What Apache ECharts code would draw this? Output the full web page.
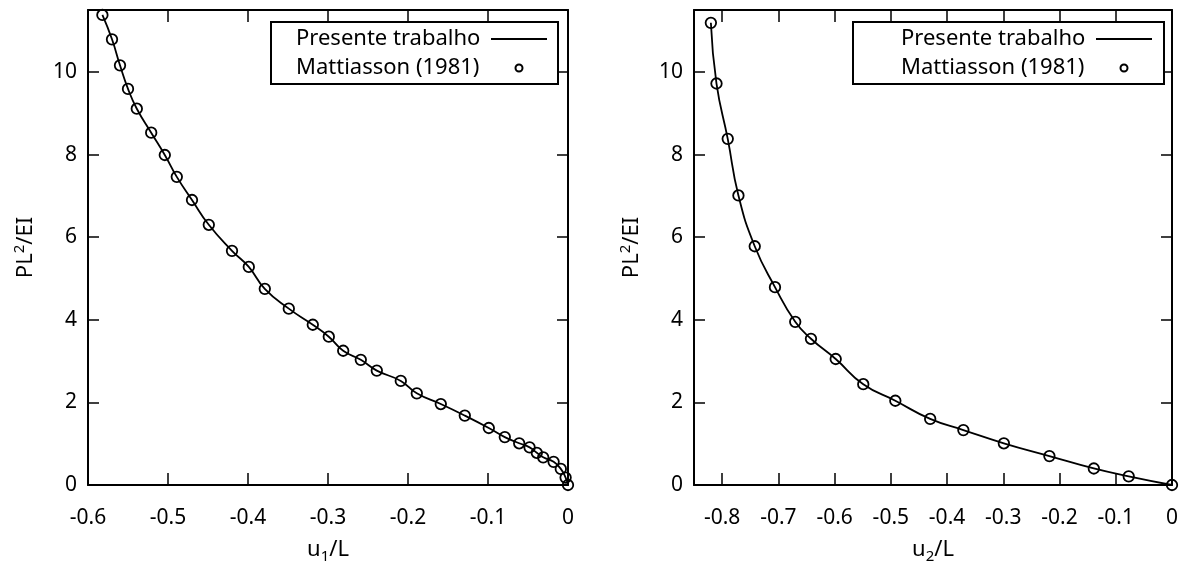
<!DOCTYPE html>
<html>
<head>
<meta charset="utf-8">
<script src="https://cdn.jsdelivr.net/npm/echarts@6/dist/echarts.min.js"></script>
<style>
  html, body { margin: 0; padding: 0; background: #fff; }
  #chart { width: 1188px; height: 578px; }
</style>
</head>
<body>
<div id="chart"></div>
<script>
// ---- data ----
const seriesNames = ['Presente trabalho', 'Mattiasson (1981)'];

// left panel: u1/L vs PL^2/EI
const u1 = [-0.582, -0.570, -0.560, -0.550, -0.539, -0.521, -0.504, -0.489, -0.470, -0.449,
            -0.420, -0.399, -0.379, -0.349, -0.319, -0.299, -0.281, -0.259, -0.239, -0.209,
            -0.189, -0.159, -0.129, -0.099, -0.079, -0.061, -0.048, -0.039, -0.031, -0.018,
            -0.009, -0.003, 0.0];
const load1 = [11.38, 10.79, 10.16, 9.59, 9.11, 8.53, 7.99, 7.46, 6.90, 6.30,
               5.67, 5.28, 4.75, 4.27, 3.88, 3.59, 3.25, 3.03, 2.77, 2.52,
               2.22, 1.96, 1.68, 1.38, 1.16, 1.01, 0.91, 0.78, 0.67, 0.56,
               0.39, 0.18, 0.0];

// right panel: u2/L vs PL^2/EI
const u2 = [-0.820, -0.810, -0.790, -0.771, -0.742, -0.706, -0.670, -0.642, -0.598, -0.549,
            -0.492, -0.430, -0.371, -0.299, -0.218, -0.139, -0.077, 0.0];
const load2 = [11.19, 9.72, 8.38, 7.01, 5.78, 4.79, 3.95, 3.54, 3.05, 2.44,
               2.04, 1.60, 1.33, 1.01, 0.70, 0.40, 0.21, 0.0];

// tick values
const xTicks1 = [-0.6, -0.5, -0.4, -0.3, -0.2, -0.1, 0];
const xTicks2 = [-0.8, -0.7, -0.6, -0.5, -0.4, -0.3, -0.2, -0.1, 0];
const yTicks = [0, 2, 4, 6, 8, 10];
const xRange1 = [-0.6, 0];
const xRange2 = [-0.85, 0];
const yRange = [0, 11.5];

// ---- chart ----
const FONT = '"Noto Sans", "Open Sans", sans-serif';
const BLACK = '#000';
const TICK_FS = 21;
const TITLE_FS = 22;
const pairs = (xs, ys) => xs.map((x, i) => [x, ys[i]]);

function xAxes(grid, range, ticks, name) {
  const common = {
    gridIndex: grid, type: 'value', min: range[0], max: range[1],
    splitLine: { show: false },
    axisLine: { show: true, onZero: false, lineStyle: { color: BLACK, width: 2 } },
    axisTick: { show: true, inside: true, length: 12, customValues: ticks,
                lineStyle: { color: BLACK, width: 1.5 } }
  };
  return [
    Object.assign({}, common, {
      position: 'bottom',
      axisLabel: { show: true, customValues: ticks, margin: 23, fontSize: TICK_FS,
                   fontFamily: FONT, color: BLACK },
      name: name, nameLocation: 'middle', nameGap: 51,
      nameTextStyle: { fontSize: TITLE_FS, fontFamily: FONT, color: BLACK,
        rich: { s: { fontSize: 15, fontFamily: FONT, color: BLACK, padding: [13, 0, 0, 0] } } }
    }),
    Object.assign({}, common, { position: 'top', axisLabel: { show: false } })
  ];
}

function yAxes(grid) {
  const common = {
    gridIndex: grid, type: 'value', min: yRange[0], max: yRange[1],
    splitLine: { show: false },
    axisLine: { show: true, onZero: false, lineStyle: { color: BLACK, width: 2 } },
    axisTick: { show: true, inside: true, length: 11, customValues: yTicks,
                lineStyle: { color: BLACK, width: 1.5 } }
  };
  return [
    Object.assign({}, common, {
      position: 'left',
      axisLabel: { show: true, customValues: yTicks, margin: 11, fontSize: TICK_FS,
                   fontFamily: FONT, color: BLACK },
      name: 'PL{p|2}/EI', nameLocation: 'middle', nameGap: 48, nameRotate: 90,
      nameTextStyle: { fontSize: TITLE_FS, fontFamily: FONT, color: BLACK,
        rich: { p: { fontSize: 15, fontFamily: FONT, color: BLACK, padding: [0, 0, 13, 0] } } }
    }),
    Object.assign({}, common, { position: 'right', axisLabel: { show: false } })
  ];
}

function legendFor(left, padLeft, padRight) {
  return {
    left: left, top: 22, orient: 'vertical', align: 'right',
    selectedMode: false,
    itemWidth: 56, itemHeight: 7, itemGap: 7,
    padding: [6, padRight, 5, padLeft],
    borderColor: BLACK, borderWidth: 2, borderRadius: 0,
    backgroundColor: '#fff',
    formatter: '{t|{name}}',
    textStyle: { fontSize: 22, fontFamily: FONT, color: BLACK,
      rich: { t: { width: 190, align: 'left', fontSize: 22, lineHeight: 21,
                   fontFamily: FONT, color: BLACK } } },
    data: [
      { name: seriesNames[0], itemStyle: { opacity: 0 } },
      { name: seriesNames[1] }
    ]
  };
}

function seriesFor(xIdx, yIdx, xs, ys) {
  return [
    { name: seriesNames[0], type: 'line', xAxisIndex: xIdx, yAxisIndex: yIdx,
      data: pairs(xs, ys), smooth: 0.5,
      symbol: 'none', showSymbol: false, clip: false,
      lineStyle: { color: BLACK, width: 1.8 }, itemStyle: { color: BLACK },
      z: 3 },
    { name: seriesNames[1], type: 'scatter', xAxisIndex: xIdx, yAxisIndex: yIdx,
      data: pairs(xs, ys), symbol: 'circle', symbolSize: 10.5, clip: false,
      itemStyle: { color: 'rgba(255,255,255,0)', borderColor: BLACK, borderWidth: 1.8, opacity: 1 },
      z: 4 }
  ];
}

const chart = echarts.init(document.getElementById('chart'), null, { renderer: 'canvas' });
chart.setOption({
  animation: false,
  backgroundColor: '#fff',
  grid: [
    { left: 88, top: 10, width: 480, height: 475 },
    { left: 694, top: 10, width: 478, height: 475 }
  ],
  xAxis: [].concat(xAxes(0, xRange1, xTicks1, 'u{s|1}/L'), xAxes(1, xRange2, xTicks2, 'u{s|2}/L')),
  yAxis: [].concat(yAxes(0), yAxes(1)),
  legend: [legendFor(271, 25, 10), legendFor(853, 48, 11)],
  series: [].concat(seriesFor(0, 0, u1, load1), seriesFor(2, 2, u2, load2))
});
</script>
</body>
</html>
